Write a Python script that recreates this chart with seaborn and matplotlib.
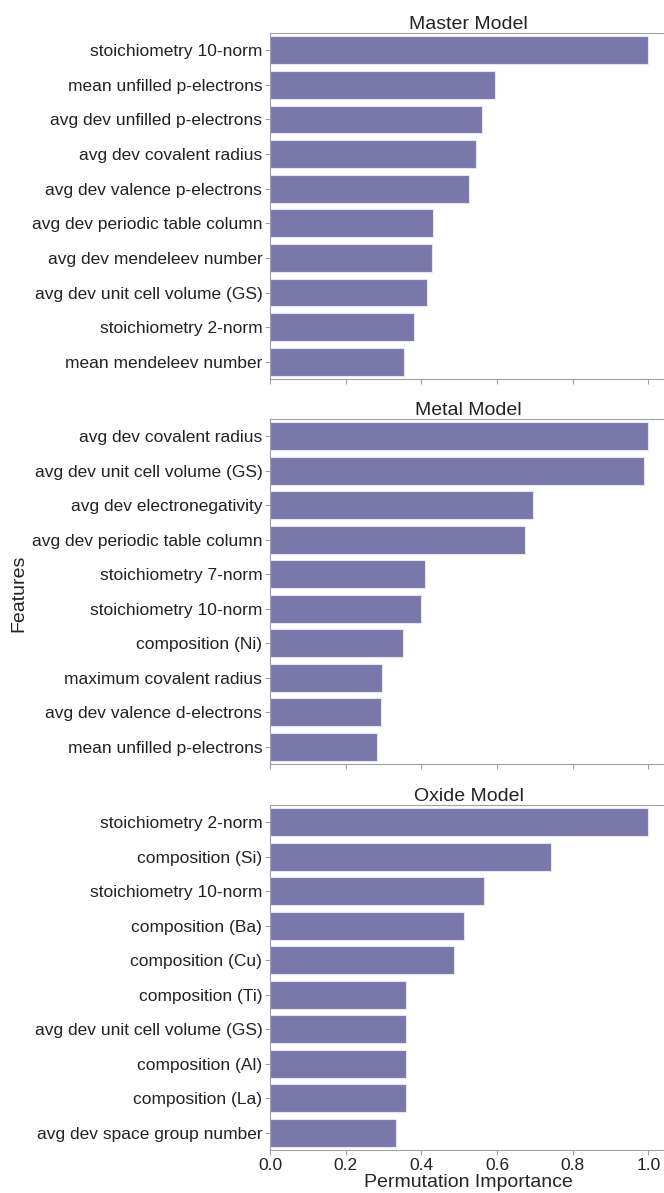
import pandas as pd
import seaborn as sns
import matplotlib.pyplot as plt

# feature names and permutation importances
master_features = ["stoichiometry 10-norm", "mean unfilled p-electrons", "avg dev unfilled p-electrons",
                   "avg dev covalent radius", "avg dev valence p-electrons", "avg dev periodic table column",
                   "avg dev mendeleev number", "avg dev unit cell volume (GS)", "stoichiometry 2-norm",
                   "mean mendeleev number"]
master_values = [1.0, 0.596, 0.560, 0.544, 0.527, 0.431, 0.429, 0.415, 0.380, 0.354]

metal_features = ["avg dev covalent radius", "avg dev unit cell volume (GS)", "avg dev electronegativity",
                  "avg dev periodic table column", "stoichiometry 7-norm", "stoichiometry 10-norm",
                  "composition (Ni)", "maximum covalent radius", "avg dev valence d-electrons",
                  "mean unfilled p-electrons"]
metal_values = [1.0, 0.989, 0.695, 0.674, 0.411, 0.399, 0.352, 0.295, 0.293, 0.283]

oxide_features = ["stoichiometry 2-norm", "composition (Si)", "stoichiometry 10-norm", "composition (Ba)",
                  "composition (Cu)", "composition (Ti)", "avg dev unit cell volume (GS)",
                  "composition (Al)", "composition (La)", "avg dev space group number"]
oxide_values = [1.0, 0.744, 0.565, 0.513, 0.487, 0.359, 0.359, 0.359, 0.359, 0.332]

titles = ["Master Model", "Metal Model", "Oxide Model"]

sns.set_style("ticks", {"axes.edgecolor": "#a0a0a0", "xtick.color": "#a0a0a0", "ytick.color": "#a0a0a0"})
plt.rcParams["font.family"] = ["Liberation Sans", "DejaVu Sans"]
plt.rcParams["text.color"] = "#222222"
plt.rcParams["xtick.labelcolor"] = "#222222"
plt.rcParams["ytick.labelcolor"] = "#222222"

fig = plt.figure(figsize=(6.64, 11.93), dpi=100)
W, H = 664, 1193
left_px = 270
# axes tops/bottoms in pixels
boxes = [(33, 379), (419, 764), (805, 1150)]
xmax = 1.05
width_px = xmax * 378.3

bar_color = "#7A77AB"
datasets = [(master_features, master_values), (metal_features, metal_values), (oxide_features, oxide_values)]

for i, ((feats, vals), (top, bot)) in enumerate(zip(datasets, boxes)):
    ax = fig.add_axes([left_px / W, 1 - bot / H, width_px / W, (bot - top) / H])
    df = pd.DataFrame({"Feature": feats, "Importance": vals})
    sns.barplot(data=df, x="Importance", y="Feature", color=bar_color, saturation=1,
                edgecolor="#e6e4f2", linewidth=0.8, width=0.8, ax=ax)
    ax.set_xlim(0, xmax)
    ax.set_xticks([0.0, 0.2, 0.4, 0.6, 0.8, 1.0])
    ax.set_title(titles[i], fontsize=14, pad=3)
    ax.set_ylabel("")
    ax.spines["right"].set_visible(False)
    ax.tick_params(axis="y", labelsize=12.5, length=3.5, width=0.8, pad=2)
    ax.tick_params(axis="x", labelsize=12.5, length=3.5, width=0.8, pad=2)
    if i < 2:
        ax.set_xticklabels([])
        ax.set_xlabel("")
    else:
        ax.set_xticklabels(["0.0", "0.2", "0.4", "0.6", "0.8", "1.0"])
        ax.set_xlabel("Permutation Importance", fontsize=14, labelpad=1)

fig.text(18.5 / W, 1 - 593 / H, "Features", rotation=90, ha="center", va="center", fontsize=14)

fig.savefig("out.png", dpi=100)
